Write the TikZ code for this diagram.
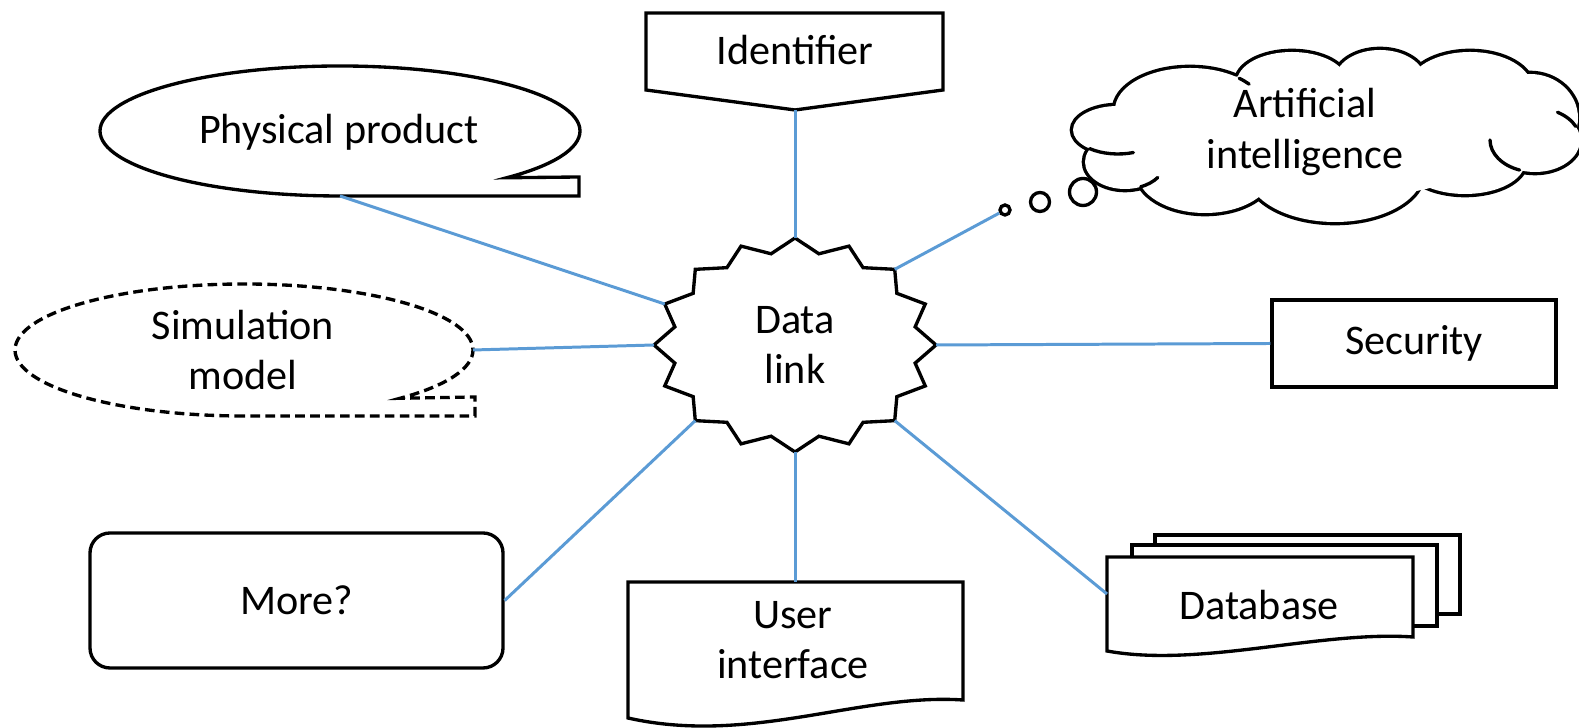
\documentclass[tikz,border=0pt]{standalone}
\usepackage{fontspec}
\setmainfont{Carlito}

\definecolor{linkblue}{RGB}{91,155,213}

% puffs of the thought cloud: centre x / centre y / x radius / y radius
\def\aipuffs{23.8/12.36/1.5/0.84, 25.84/12.92/1.1/0.6, 27.6/12.96/0.9/0.6,
    29.4/12.8/1.24/0.72, 30.6/12.2/0.96/0.88, 30.7/11.76/0.9/0.64,
    29.3/11.32/1.2/0.64, 26.7/11.12/1.76/1.0, 24.1/11.12/1.36/0.82,
    22.5/11.32/0.8/0.54, 22.36/11.96/0.9/0.48}

\begin{document}
\begin{tikzpicture}[
        font=\fontsize{24}{28.5}\selectfont,
        outline/.style={draw, line width=1.9pt, fill=white},
        stub/.style={draw, line width=1.9pt, line cap=round},
        link/.style={draw=linkblue, line width=1.7pt},
        txt/.style={align=center, inner sep=0pt}
    ]
        \useasboundingbox (0, 0) rectangle (31.58, 14.56);

        % data link star in the middle
        \begin{scope}[shift={(15.9, 7.66)}]
            \draw[outline] (90:2.82 and 2.14)
                \foreach \k in {0,...,14} {
                    -- ({101.25+22.5*\k}:2.45 and 1.86) -- ({112.5+22.5*\k}:2.82 and 2.14)
                }
                -- (78.75:2.45 and 1.86) -- cycle;
            \foreach \k in {0,...,15}
                \coordinate (dl-\k) at ({90+22.5*\k}:2.82 and 2.14);
        \end{scope}
        \node[txt] (dl) at (15.9, 7.66) {Data\\link};

        % identifier (off-page shape)
        \draw[outline] (12.92, 14.30) -- (18.86, 14.30) -- (18.86, 12.76)
            -- (15.9, 12.36) -- (12.92, 12.76) -- cycle;
        \coordinate (id-tip) at (15.9, 12.36);
        \node[txt] (id) at (15.9, 13.56) {Identifier};

        % physical product callout
        \draw[outline] (6.8, 10.64)
            arc[start angle=270, end angle=-46, x radius=4.8, y radius=1.3]
            -- (11.58, 11.02) -- (11.58, 10.64) -- cycle;
        \coordinate (pp-tip) at (6.8, 10.64);
        \node[txt] (pp) at (6.78, 11.92) {Physical product};

        % simulation model callout, dashed
        \draw[outline, dash pattern=on 5.5pt off 3pt] (4.88, 6.24)
            arc[start angle=270, end angle=-47, x radius=4.58, y radius=1.32]
            -- (9.5, 6.62) -- (9.5, 6.24) -- cycle;
        \coordinate (sim-tip) at (9.46, 7.56);
        \node[txt] (sim) at (4.86, 7.56) {Simulation\\model};

        % security
        \node[outline, minimum width=5.68cm, minimum height=1.74cm] (sec)
            at (28.28, 7.69) {Security};

        % artificial intelligence thought cloud:
        % thick outlines of all puffs, then white fills leave only the outer rim
        \foreach \cx/\cy/\rx/\ry in \aipuffs
            \draw[line width=3.8pt] (\cx, \cy) ellipse[x radius=\rx, y radius=\ry];
        \foreach \cx/\cy/\rx/\ry in \aipuffs
            \fill[white] (\cx, \cy) ellipse[x radius=\rx, y radius=\ry];
        \fill[white] (26.4, 11.86) ellipse[x radius=3.8, y radius=1.3];
        % inner creases
        \draw[stub] (23.8, 12.36) ++(49:1.5 and 0.84)
            arc[start angle=49, end angle=38, x radius=1.5, y radius=0.84];
        \draw[stub] (30.7, 11.76) ++(25:0.9 and 0.64)
            arc[start angle=25, end angle=60, x radius=0.9, y radius=0.64];
        \draw[stub] (30.7, 11.76) ++(250:0.9 and 0.64)
            arc[start angle=250, end angle=180, x radius=0.9, y radius=0.64];
        \draw[stub] (22.5, 11.32) ++(293:0.8 and 0.54)
            arc[start angle=293, end angle=325, x radius=0.8, y radius=0.54];
        \draw[stub] (22.36, 11.96) ++(231:0.9 and 0.48)
            arc[start angle=231, end angle=290, x radius=0.9, y radius=0.48];
        \node[txt] (ai) at (26.1, 11.92) {Artificial\\intelligence};
        \node[outline, circle, inner sep=0pt, minimum size=0.2cm] (bub1) at (20.1, 10.36) {};
        \node[outline, circle, inner sep=0pt, minimum size=0.38cm] (bub2) at (20.8, 10.52) {};
        \node[outline, circle, inner sep=0pt, minimum size=0.54cm] (bub3) at (21.66, 10.72) {};

        % more?
        \node[outline, rounded corners=0.4cm, minimum width=8.26cm, minimum height=2.7cm]
            (more) at (5.93, 2.55) {More?};

        % user interface (document shape)
        \draw[outline] (12.56, 2.92) -- (19.26, 2.92) -- (19.26, 0.56)
            .. controls (17.2, 0.7) and (15.0, -0.35) .. (12.56, 0.2) -- cycle;
        \coordinate (ui-top) at (15.9, 2.92);
        \node[txt] (ui) at (15.86, 1.75) {User\\interface};

        % database (stack of documents)
        \draw[outline] (23.1, 2.28) rectangle (29.2, 3.86);
        \draw[outline] (22.64, 2.04) rectangle (28.74, 3.66);
        \draw[outline] (22.14, 3.42) -- (28.26, 3.42) -- (28.26, 1.82)
            .. controls (26.4, 1.95) and (24.0, 1.2) .. (22.14, 1.54) -- cycle;
        \coordinate (db-in) at (22.14, 2.68);
        \node[txt] (db) at (25.18, 2.46) {Database};

        % links to the star
        \draw[link] (id-tip) -- (dl-0);
        \draw[link] (pp-tip) -- (dl-3);
        \draw[link] (sim-tip) -- (dl-4);
        \draw[link] (sec.west) -- (dl-12);
        \draw[link] (dl-14) -- (bub1);
        \draw[link] (more.east) -- (dl-6);
        \draw[link] (ui-top) -- (dl-8);
        \draw[link] (db-in) -- (dl-10);
    \end{tikzpicture}
\end{document}
